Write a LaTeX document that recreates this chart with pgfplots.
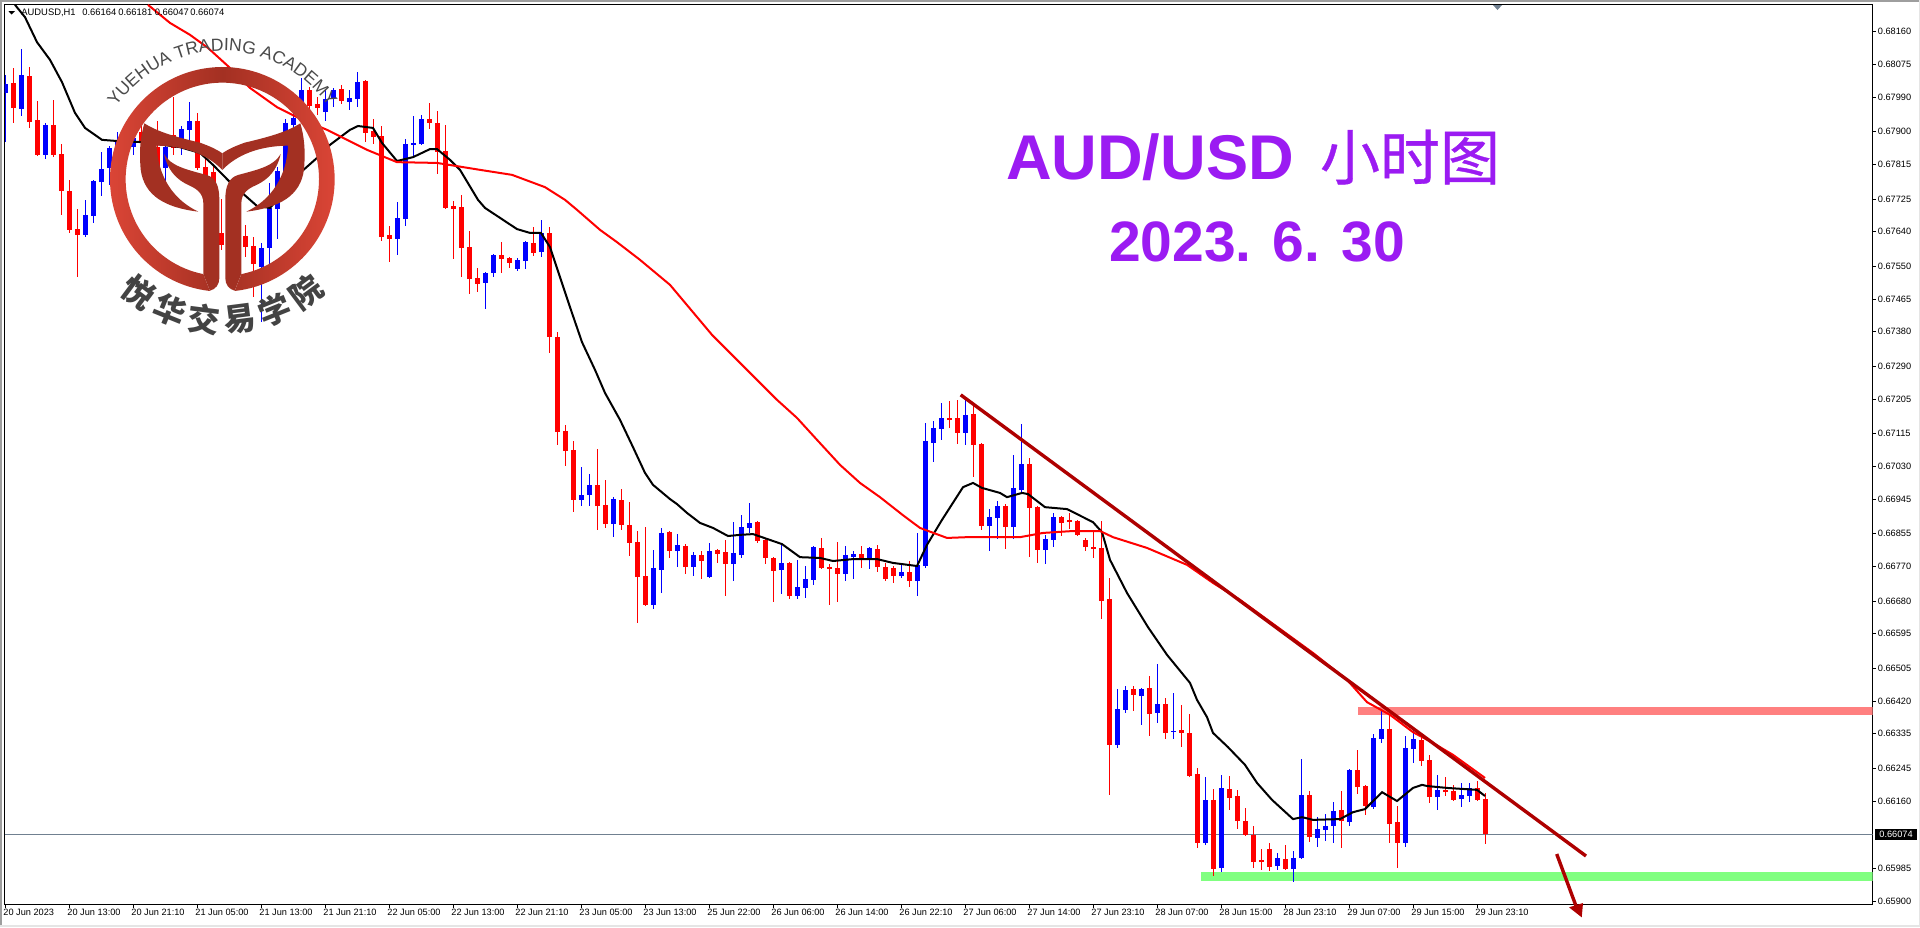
\documentclass[border=0pt]{standalone}
\usepackage{fontspec}
\usepackage{pgfplots}
\usepackage{pgfplotstable}
\pgfplotsset{compat=1.18}
\usetikzlibrary{decorations.text}
\setmainfont{Liberation Sans}
\newfontfamily\cjk{Noto Sans CJK SC}
\newfontfamily\cjktitle{Noto Sans CJK SC}[FakeBold=0.6]
\definecolor{purp}{HTML}{9B1BF2}
\definecolor{candlered}{HTML}{FF0000}
\definecolor{candleblue}{HTML}{0000FF}
\definecolor{trend}{HTML}{AE0000}
\definecolor{pricegray}{HTML}{708090}
\definecolor{ringL}{HTML}{DD4637}
\definecolor{ringM}{HTML}{A33022}
\definecolor{logotxt}{HTML}{4A4A4A}
\pgfplotstableread{
x h t b l
5 0.68048 0.68024 0.68001 0.67873
21 0.68115 0.68048 0.67959 0.67941
45 0.67923 0.67918 0.67840 0.67829
85 0.67723 0.67684 0.67632 0.67626
93 0.67775 0.67772 0.67681 0.67663
101 0.67847 0.67803 0.67769 0.67733
109 0.67863 0.67858 0.67806 0.67762
117 0.67899 0.67879 0.67827 0.67808
133 0.67897 0.67884 0.67860 0.67840
149 0.67910 0.67892 0.67853 0.67840
165 0.67871 0.67860 0.67806 0.67762
181 0.67915 0.67907 0.67860 0.67840
189 0.67977 0.67928 0.67905 0.67879
229 0.67710 0.67671 0.67619 0.67593
261 0.67611 0.67598 0.67548 0.67405
269 0.67767 0.67702 0.67598 0.67554
277 0.67808 0.67798 0.67699 0.67621
285 0.67933 0.67923 0.67795 0.67756
293 0.67949 0.67936 0.67918 0.67910
301 0.68040 0.68009 0.67964 0.67938
325 0.68009 0.67985 0.67951 0.67928
333 0.68014 0.68009 0.67988 0.67964
349 0.68009 0.67988 0.67977 0.67957
357 0.68055 0.68029 0.67985 0.67964
397 0.67717 0.67676 0.67621 0.67580
405 0.67881 0.67868 0.67673 0.67655
413 0.67941 0.67871 0.67866 0.67834
421 0.67944 0.67933 0.67868 0.67866
485 0.67535 0.67533 0.67507 0.67439
493 0.67582 0.67580 0.67533 0.67522
517 0.67572 0.67567 0.67543 0.67538
525 0.67616 0.67613 0.67564 0.67543
541 0.67671 0.67637 0.67587 0.67574
581 0.67028 0.66956 0.66943 0.66927
589 0.67010 0.66982 0.66956 0.66927
613 0.66950 0.66945 0.66880 0.66846
653 0.66813 0.66766 0.66670 0.66659
661 0.66870 0.66857 0.66761 0.66701
677 0.66854 0.66826 0.66810 0.66768
693 0.66807 0.66800 0.66768 0.66745
709 0.66831 0.66810 0.66742 0.66740
733 0.66885 0.66805 0.66776 0.66732
741 0.66904 0.66872 0.66800 0.66792
749 0.66935 0.66883 0.66870 0.66857
781 0.66828 0.66779 0.66761 0.66698
797 0.66787 0.66716 0.66693 0.66685
805 0.66771 0.66737 0.66714 0.66688
813 0.66823 0.66820 0.66735 0.66722
845 0.66823 0.66800 0.66750 0.66732
853 0.66810 0.66802 0.66794 0.66737
869 0.66820 0.66818 0.66787 0.66763
901 0.66774 0.66755 0.66745 0.66740
917 0.66857 0.66774 0.66732 0.66693
925 0.67143 0.67096 0.66771 0.66766
933 0.67148 0.67130 0.67091 0.67041
941 0.67195 0.67156 0.67127 0.67099
965 0.67203 0.67164 0.67117 0.67086
989 0.66919 0.66898 0.66875 0.66810
997 0.66940 0.66927 0.66896 0.66841
1013 0.67060 0.66974 0.66872 0.66841
1021 0.67140 0.67036 0.66969 0.66963
1045 0.66852 0.66841 0.66813 0.66776
1053 0.66909 0.66898 0.66839 0.66820
1117 0.66451 0.66399 0.66306 0.66298
1125 0.66459 0.66449 0.66397 0.66389
1141 0.66454 0.66451 0.66433 0.66358
1157 0.66516 0.66412 0.66389 0.66363
1173 0.66441 0.66342 0.66339 0.66321
1205 0.66222 0.66163 0.66051 0.66046
1221 0.66228 0.66194 0.65986 0.65975
1277 0.66025 0.66012 0.65991 0.65981
1293 0.66030 0.66012 0.65983 0.65949
1301 0.66269 0.66176 0.66012 0.66009
1317 0.66118 0.66087 0.66064 0.66040
1325 0.66126 0.66095 0.66085 0.66056
1333 0.66157 0.66134 0.66095 0.66051
1349 0.66243 0.66241 0.66105 0.66095
1373 0.66334 0.66324 0.66144 0.66139
1381 0.66394 0.66347 0.66321 0.66311
1405 0.66329 0.66298 0.66051 0.66040
1413 0.66345 0.66321 0.66295 0.66259
1437 0.66228 0.66189 0.66170 0.66137
1461 0.66207 0.66176 0.66165 0.66144
1469 0.66207 0.66194 0.66173 0.66157
}\bluecandles
\pgfplotstableread{
x h t b l
13 0.68066 0.68027 0.67962 0.67923
29 0.68068 0.68045 0.67925 0.67910
37 0.67980 0.67931 0.67840 0.67837
53 0.67983 0.67918 0.67840 0.67834
61 0.67868 0.67842 0.67746 0.67684
69 0.67775 0.67746 0.67645 0.67637
77 0.67699 0.67647 0.67632 0.67522
125 0.67897 0.67879 0.67853 0.67834
141 0.67918 0.67899 0.67871 0.67853
157 0.67928 0.67860 0.67808 0.67806
173 0.67990 0.67892 0.67858 0.67840
197 0.67949 0.67928 0.67806 0.67801
205 0.67834 0.67808 0.67762 0.67730
213 0.67814 0.67795 0.67743 0.67723
221 0.67725 0.67637 0.67606 0.67593
237 0.67684 0.67658 0.67619 0.67580
245 0.67658 0.67629 0.67600 0.67574
253 0.67626 0.67603 0.67556 0.67470
309 0.68016 0.68009 0.67967 0.67951
317 0.67990 0.67972 0.67962 0.67944
341 0.68022 0.68011 0.67980 0.67972
365 0.68035 0.68032 0.67897 0.67873
373 0.67933 0.67902 0.67886 0.67868
381 0.67915 0.67889 0.67626 0.67616
389 0.67655 0.67632 0.67621 0.67561
429 0.67975 0.67933 0.67923 0.67907
437 0.67954 0.67923 0.67847 0.67790
445 0.67918 0.67850 0.67702 0.67699
453 0.67720 0.67707 0.67699 0.67569
461 0.67736 0.67704 0.67598 0.67522
469 0.67642 0.67600 0.67517 0.67478
477 0.67546 0.67520 0.67504 0.67483
501 0.67613 0.67580 0.67569 0.67533
509 0.67574 0.67572 0.67559 0.67546
533 0.67652 0.67611 0.67585 0.67577
549 0.67652 0.67637 0.67366 0.67325
557 0.67379 0.67366 0.67119 0.67086
565 0.67138 0.67122 0.67070 0.67031
573 0.67096 0.67073 0.66943 0.66911
597 0.67075 0.66982 0.66927 0.66865
605 0.66995 0.66930 0.66880 0.66870
621 0.66971 0.66943 0.66878 0.66865
629 0.66937 0.66878 0.66831 0.66797
637 0.66862 0.66833 0.66742 0.66623
645 0.66872 0.66745 0.66670 0.66667
669 0.66862 0.66859 0.66810 0.66792
685 0.66828 0.66823 0.66768 0.66750
701 0.66810 0.66800 0.66784 0.66737
717 0.66815 0.66813 0.66802 0.66779
725 0.66839 0.66807 0.66776 0.66693
757 0.66888 0.66885 0.66836 0.66831
765 0.66841 0.66839 0.66792 0.66776
773 0.66794 0.66792 0.66758 0.66677
789 0.66781 0.66779 0.66693 0.66685
821 0.66844 0.66818 0.66766 0.66765
829 0.66776 0.66768 0.66763 0.66670
837 0.66833 0.66766 0.66750 0.66677
861 0.66823 0.66802 0.66789 0.66766
877 0.66826 0.66815 0.66768 0.66755
885 0.66779 0.66768 0.66737 0.66732
893 0.66771 0.66766 0.66745 0.66727
909 0.66784 0.66755 0.66732 0.66716
949 0.67200 0.67156 0.67151 0.67130
957 0.67203 0.67156 0.67117 0.67088
973 0.67190 0.67166 0.67086 0.67002
981 0.67091 0.67088 0.66875 0.66865
1005 0.66932 0.66927 0.66872 0.66815
1029 0.67052 0.67036 0.66922 0.66794
1037 0.66927 0.66924 0.66813 0.66779
1061 0.66901 0.66898 0.66883 0.66849
1069 0.66909 0.66891 0.66885 0.66867
1077 0.66891 0.66888 0.66852 0.66849
1085 0.66844 0.66839 0.66820 0.66810
1093 0.66859 0.66820 0.66815 0.66792
1101 0.66888 0.66818 0.66680 0.66633
1109 0.66740 0.66685 0.66306 0.66176
1133 0.66459 0.66451 0.66436 0.66394
1149 0.66485 0.66454 0.66386 0.66329
1165 0.66428 0.66412 0.66337 0.66321
1181 0.66410 0.66345 0.66337 0.66300
1189 0.66386 0.66337 0.66225 0.66222
1197 0.66246 0.66230 0.66051 0.66038
1213 0.66191 0.66163 0.65983 0.65965
1229 0.66225 0.66191 0.66168 0.66137
1237 0.66189 0.66173 0.66108 0.66087
1245 0.66142 0.66108 0.66072 0.66069
1253 0.66095 0.66072 0.66001 0.65986
1261 0.66035 0.66007 0.66001 0.65981
1269 0.66051 0.66035 0.65988 0.65978
1285 0.66046 0.66009 0.65983 0.65981
1309 0.66186 0.66176 0.66066 0.66053
1341 0.66186 0.66137 0.66108 0.66038
1357 0.66293 0.66241 0.66196 0.66178
1365 0.66202 0.66199 0.66147 0.66124
1389 0.66384 0.66347 0.66100 0.66051
1397 0.66147 0.66105 0.66051 0.65986
1421 0.66332 0.66319 0.66264 0.66251
1429 0.66280 0.66267 0.66170 0.66155
1445 0.66222 0.66189 0.66183 0.66173
1453 0.66202 0.66186 0.66163 0.66160
1477 0.66212 0.66194 0.66163 0.66160
1485 0.66181 0.66164 0.66074 0.66047
}\redcandles
\pgfplotstableread{
x y
15 0.68230
25 0.68198
37 0.68133
50 0.68087
62 0.68029
75 0.67949
85 0.67910
102 0.67879
117 0.67876
143 0.67873
180 0.67860
200 0.67845
213 0.67814
230 0.67769
257 0.67707
270 0.67702
300 0.67793
317 0.67832
330 0.67866
350 0.67905
358 0.67915
373 0.67910
382 0.67871
397 0.67824
413 0.67834
430 0.67855
437 0.67855
450 0.67827
460 0.67801
478 0.67723
485 0.67702
503 0.67671
517 0.67647
530 0.67637
541 0.67637
550 0.67600
560 0.67522
570 0.67444
582 0.67353
595 0.67281
605 0.67221
620 0.67151
633 0.67080
645 0.67013
653 0.66982
670 0.66945
677 0.66932
687 0.66909
700 0.66883
713 0.66870
728 0.66849
740 0.66852
753 0.66854
782 0.66828
800 0.66794
820 0.66792
833 0.66784
853 0.66789
877 0.66789
893 0.66779
917 0.66771
927 0.66826
942 0.66891
963 0.66976
973 0.66987
982 0.66974
1000 0.66961
1007 0.66950
1022 0.66961
1028 0.66958
1045 0.66924
1067 0.66919
1093 0.66885
1102 0.66859
1110 0.66787
1127 0.66701
1148 0.66612
1167 0.66540
1190 0.66467
1197 0.66423
1207 0.66378
1213 0.66337
1228 0.66300
1245 0.66254
1257 0.66207
1272 0.66163
1293 0.66113
1302 0.66118
1313 0.66111
1340 0.66113
1353 0.66131
1365 0.66139
1382 0.66183
1397 0.66160
1413 0.66194
1422 0.66202
1427 0.66199
1447 0.66194
1477 0.66189
1485 0.66173
}\blackma
\pgfplotstableread{
x y
148 0.68230
170 0.68183
190 0.68152
208 0.68118
230 0.68066
250 0.68014
277 0.67964
297 0.67938
327 0.67905
367 0.67853
397 0.67821
437 0.67819
480 0.67801
512 0.67788
545 0.67756
565 0.67723
577 0.67697
600 0.67645
617 0.67613
640 0.67567
670 0.67502
712 0.67372
757 0.67255
777 0.67203
797 0.67156
817 0.67099
840 0.67034
860 0.66987
880 0.66950
903 0.66903
920 0.66870
947 0.66844
967 0.66846
1020 0.66846
1043 0.66857
1073 0.66862
1100 0.66862
1113 0.66846
1147 0.66818
1187 0.66774
1213 0.66727
1240 0.66683
1313 0.66545
1347 0.66475
1367 0.66417
1390 0.66384
1413 0.66339
1433 0.66311
1453 0.66280
1485 0.66220
}\redma
\begin{document}
\begin{tikzpicture}[x=0.5pt,y=0.5pt]
\path[use as bounding box] (0,0) rectangle (1920,-927);
\fill[white] (0,0) rectangle (1920,-927);
\fill[black!38] (0,0) rectangle (1920,-2.4);
\fill[black!38] (0,0) rectangle (2.2,-927);
\fill[black!10] (0,-925) rectangle (1920,-927);
\fill[black!10] (1919,0) rectangle (1920,-927);
\begin{axis}[
  at={(2.25pt,-452.25pt)}, anchor=south west,
  scale only axis, width=934pt, height=450pt,
  xmin=4.5, xmax=1872.5, ymin=0.658909, ymax=0.682309,
  axis line style={line width=0.5pt,black},
  tick align=outside, major tick length=1.5pt,
  tick style={black,line width=0.5pt},
  xtick pos=bottom, ytick pos=right,
  xticklabel pos=bottom, yticklabel pos=right,
  xtick={5,69,133,197,261,325,389,453,517,581,645,709,773,837,901,965,1029,1093,1157,1221,1285,1349,1413,1477},
  xticklabels={20 Jun 2023,20 Jun 13:00,20 Jun 21:10,21 Jun 05:00,21 Jun 13:00,21 Jun 21:10,22 Jun 05:00,22 Jun 13:00,22 Jun 21:10,23 Jun 05:00,23 Jun 13:00,25 Jun 22:00,26 Jun 06:00,26 Jun 14:00,26 Jun 22:10,27 Jun 06:00,27 Jun 14:00,27 Jun 23:10,28 Jun 07:00,28 Jun 15:00,28 Jun 23:10,29 Jun 07:00,29 Jun 15:00,29 Jun 23:10},
  ytick={0.68160,0.68075,0.67990,0.67900,0.67815,0.67725,0.67640,0.67550,0.67465,0.67380,0.67290,0.67205,0.67115,0.67030,0.66945,0.66855,0.66770,0.66680,0.66595,0.66505,0.66420,0.66335,0.66245,0.66160,0.65985,0.65900},
  yticklabels={0.68160,0.68075,0.67990,0.67900,0.67815,0.67725,0.67640,0.67550,0.67465,0.67380,0.67290,0.67205,0.67115,0.67030,0.66945,0.66855,0.66770,0.66680,0.66595,0.66505,0.66420,0.66335,0.66245,0.66160,0.65985,0.65900},
  xticklabel style={anchor=north west,inner sep=0pt,xshift=-1pt,yshift=-0.4pt,font=\fontsize{4.6}{5}\selectfont},
  yticklabel style={anchor=west,inner sep=0pt,xshift=1pt,font=\fontsize{4.6}{5}\selectfont},
  clip=true,
  no markers,
]
\addplot[fill=red!50,draw=none,forget plot] coordinates {(1358,0.66384)(1873,0.66384)(1873,0.66405)(1358,0.66405)} -- cycle;
\addplot[fill=green!50,draw=none,forget plot] coordinates {(1200.7,0.65952)(1873,0.65952)(1873,0.65975)(1200.7,0.65975)} -- cycle;
\addplot[pricegray,line width=0.5pt,forget plot] coordinates {(4.5,0.66074)(1872.5,0.66074)};
% wicks
\addplot[draw=none,mark=none,forget plot,error bars/.cd,y dir=both,y explicit,error mark=none,error bar style={candleblue,line width=0.5pt}]
  table[x=x,y=b,y error plus expr=\thisrow{h}-\thisrow{b},y error minus expr=\thisrow{b}-\thisrow{l}] {\bluecandles};
\addplot[draw=none,mark=none,forget plot,error bars/.cd,y dir=both,y explicit,error mark=none,error bar style={candlered,line width=0.5pt}]
  table[x=x,y=b,y error plus expr=\thisrow{h}-\thisrow{b},y error minus expr=\thisrow{b}-\thisrow{l}] {\redcandles};
% bodies
\addplot[draw=none,mark=none,forget plot,error bars/.cd,y dir=plus,y explicit,error mark=none,error bar style={candleblue,line width=2.5pt}]
  table[x=x,y=b,y error plus expr=\thisrow{t}-\thisrow{b}] {\bluecandles};
\addplot[draw=none,mark=none,forget plot,error bars/.cd,y dir=plus,y explicit,error mark=none,error bar style={candlered,line width=2.5pt}]
  table[x=x,y=b,y error plus expr=\thisrow{t}-\thisrow{b}] {\redcandles};
% moving averages
\addplot[black,line width=1pt,forget plot] table[x=x,y=y] {\blackma};
\addplot[candlered,line width=1pt,forget plot] table[x=x,y=y] {\redma};
% trend line
\addplot[trend,line width=1.7pt,forget plot] coordinates {(960.7,0.67216)(1586,0.66017)};
\end{axis}
% arrow
\draw[trend,line width=1.7pt] (1556.7,-854) -- (1576,-906);
\fill[trend] (1569,-907.3) -- (1583,-903) -- (1581.7,-917.3) -- cycle;
% top marker and header
\fill[pricegray] (1493,-5) -- (1502,-5) -- (1497.5,-10) -- cycle;
\fill[black] (8.3,-11) -- (15,-11) -- (11.6,-14.5) -- cycle;
\node[anchor=west,inner sep=0pt,font=\fontsize{4.7}{5}\selectfont] at (21,-12.5) {AUDUSD,H1};
\node[anchor=west,inner sep=0pt,font=\fontsize{4.7}{5}\selectfont] at (82,-12.5) {0.66164};
\node[anchor=west,inner sep=0pt,font=\fontsize{4.7}{5}\selectfont] at (118,-12.5) {0.66181};
\node[anchor=west,inner sep=0pt,font=\fontsize{4.7}{5}\selectfont] at (154.5,-12.5) {0.66047};
\node[anchor=west,inner sep=0pt,font=\fontsize{4.7}{5}\selectfont] at (190,-12.5) {0.66074};
% current price label
\fill[black] (1875,-829) rectangle (1917,-839.5);
\node[anchor=west,inner sep=0pt,text=white,font=\fontsize{4.6}{5}\selectfont] at (1879,-834.2) {0.66074};
% title
\node[text=purp,font=\bfseries\fontsize{31.6}{34}\selectfont] at (1150,-157) {AUD/USD};
\node[text=purp,font=\cjktitle\fontsize{30}{32}\selectfont] at (1410,-157) {小时图};
\node[text=purp,font=\bfseries\fontsize{28.5}{32}\selectfont] at (1257,-242) {2023. 6. 30};
% logo
\begin{scope}[shift={(222.33,-179.33)},x=0.16667pt,y=0.16667pt]
\shade[left color=ringL,right color=ringL,middle color=ringM]
  (-83.7:337) arc[start angle=-83.7,end angle=263.7,radius=337]
  -- (258.65:290) arc[start angle=258.65,end angle=-78.65,radius=290] -- cycle;
\foreach \s in {1,-1}{
\begin{scope}[xscale=\s]
\fill[ringM] (-234,168) .. controls (-190,140) and (-130,125) .. (-67,110) .. controls (-40,100) and (-20,92) .. (0,78) -- (0,28)
  .. controls (-30,60) and (-90,100) .. (-197,101) .. controls (-195,40) and (-170,-50) .. (-72,-97)
  .. controls (-170,-85) and (-235,-50) .. (-245,30) .. controls (-250,90) and (-245,130) .. (-234,168) -- cycle;
\fill[ringM] (-175,76) .. controls (-155,40) and (-110,30) .. (-47,13) .. controls (-20,5) and (-9,-20) .. (-9,-60)
  -- (-9,-297) .. controls (-9,-315) and (-20,-330) .. (-37,-334) -- (-57,-284) -- (-57,-72)
  .. controls (-57,-40) and (-80,-27) .. (-100,-18) .. controls (-140,0) and (-165,30) .. (-175,76) -- cycle;
\end{scope}
}
\path[decorate,decoration={text along path,text align=center,text color=logotxt,
  text={|\fontsize{8.8}{9}\selectfont|YUEHUA TRADING ACADEMY}}]
  (145:385) arc[start angle=145,end angle=35,radius=385];
\foreach \a/\r/\c in {233.4/-36.6/悦,248/-22/华,262.7/-7.3/交,277.3/7.3/易,292/22/学,306.6/36.6/院}{
  \node[text=logotxt!90!black,rotate=\r,font=\cjk\bfseries\fontsize{16}{17}\selectfont,inner sep=0pt] at (\a:423) {\c};
}
\end{scope}
\end{tikzpicture}
\end{document}
